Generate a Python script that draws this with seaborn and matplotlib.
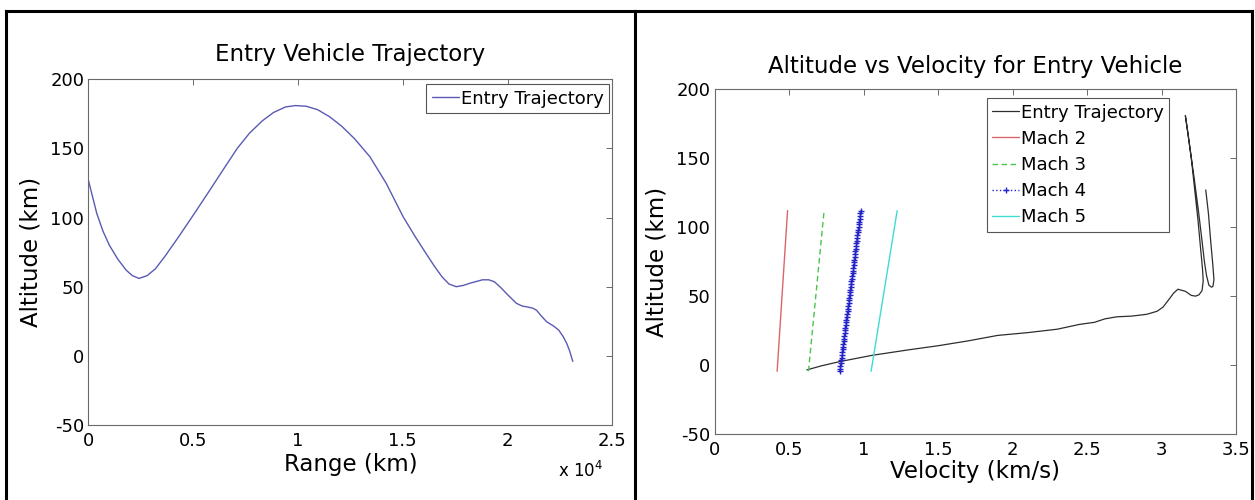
import numpy as np
import pandas as pd
import matplotlib
matplotlib.use("Agg")
import matplotlib.pyplot as plt
import seaborn as sns
from matplotlib.lines import Line2D
from matplotlib.ticker import FuncFormatter

# ---------------- data ----------------
# Left panel: range (km) vs altitude (km)
range_km = [0, 200, 400, 700, 1000, 1400, 1800, 2100, 2414, 2800, 3200, 3700,
            4300, 5058, 5800, 6533, 7100, 7683, 8300, 8833, 9400, 9886, 10400,
            10940, 11500, 12090, 12700, 13430, 14200, 15020, 15600, 16110,
            16500, 16880, 17200, 17550, 17900, 18220, 18800, 19100, 19370,
            19700, 19950, 20420, 20700, 20900, 21200, 21380, 21600, 21860,
            22200, 22440, 22650, 22820, 22950, 23110]
alt_range = [127, 115, 103, 90, 80, 70, 62, 58, 56, 58, 63, 73,
             86, 103, 120, 137, 150, 161, 170, 176, 180, 181, 180.5,
             178, 173, 166, 157, 144, 125, 100.5, 86, 74,
             65, 57, 52, 50, 51, 52.6, 55, 55, 53.6,
             49, 45, 38, 36, 35.5, 34.5, 33, 29, 24.7,
             21.5, 18.6, 14, 9, 4, -4]

# Right panel: entry trajectory velocity (km/s) vs altitude (km), in time order
traj_vel = [3.297, 3.315, 3.330, 3.345, 3.352, 3.345, 3.335, 3.318, 3.302,
            3.288, 3.272, 3.250, 3.220, 3.185, 3.160, 3.175, 3.200, 3.225,
            3.245, 3.262, 3.275, 3.280, 3.272, 3.252, 3.229, 3.200, 3.160,
            3.110, 3.080, 3.050, 3.010, 2.970, 2.900, 2.800, 2.700, 2.620,
            2.550, 2.450, 2.300, 2.100, 1.900, 1.700, 1.500, 1.300, 1.060,
            0.840, 0.720, 0.620]
traj_alt = [127, 110, 90, 72, 62, 57, 56.5, 58, 65,
            75, 90, 110, 135, 162, 181, 170, 150, 125,
            105, 85, 70, 61, 54, 51, 50, 50.5, 53.5,
            55, 52, 47.6, 42, 39, 36.8, 35.5, 35, 33.5,
            31, 29.5, 26, 23.5, 21.5, 17.5, 14, 11, 7.1,
            2.5, -0.5, -3.5]

# Mach lines: Mach number times local speed of sound (km/s)
mach_numbers = [2, 3, 4, 5]
mach_labels = ["Mach 2", "Mach 3", "Mach 4", "Mach 5"]
mach_alt_range = [-4.5, 112]          # altitude span of the Mach lines (km)
sound_speed_range = [0.2102, 0.2452]  # speed of sound at bottom / top (km/s)

# ---------------- styling ----------------
sns.set_theme(style="white")
plt.rcParams["font.family"] = ["DejaVu Sans"]
plt.rcParams["axes.unicode_minus"] = False
plt.rcParams["text.color"] = "black"
plt.rcParams["axes.labelcolor"] = "black"
plt.rcParams["axes.edgecolor"] = "#6a6a6a"
plt.rcParams["axes.linewidth"] = 0.8

W, H = 1255, 500
fig = plt.figure(figsize=(12.55, 5.0), dpi=100)
fig.patch.set_facecolor("white")


def fx(px):
    return px / W


def fy(py):
    return 1 - py / H


ax1 = fig.add_axes([fx(88.4), fy(425), fx(612.4) - fx(88.4), fy(79.3) - fy(425)])
ax2 = fig.add_axes([fx(714.5), fy(434), fx(1236) - fx(714.5), fy(89.3) - fy(434)])

# ---- left panel
df1 = pd.DataFrame({"range": range_km, "alt": alt_range})
sns.lineplot(data=df1, x="range", y="alt", ax=ax1, sort=False, estimator=None,
             color="#5a5ab4", lw=1.0, label="Entry Trajectory")
ax1.set_xlim(0, 25000)
ax1.set_ylim(-50, 200)
ax1.set_xticks([0, 5000, 10000, 15000, 20000, 25000])
ax1.xaxis.set_major_formatter(FuncFormatter(lambda v, p: f"{v / 1e4:g}"))
ax1.set_yticks([-50, 0, 50, 100, 150, 200])
ax1.set_title("Entry Vehicle Trajectory", fontsize=16.5, pad=13, color="black")
ax1.set_xlabel("Range (km)", fontsize=16.5)
ax1.set_ylabel("Altitude (km)", fontsize=16.5)
ax1.xaxis.set_label_coords(0.5, -0.08)
ax1.yaxis.set_label_coords(-0.088, 0.5)
fig.text(fx(603), fy(477), r"x 10$^4$", ha="right", va="baseline", fontsize=12,
         color="black")

# ---- right panel
df2 = pd.DataFrame({"vel": traj_vel, "alt": traj_alt})
sns.lineplot(data=df2, x="vel", y="alt", ax=ax2, sort=False, estimator=None,
             color="#2e2e2e", lw=0.9, label="Entry Trajectory")

mach_alt = np.linspace(mach_alt_range[0], mach_alt_range[1], 60)
sound = np.interp(mach_alt, mach_alt_range, sound_speed_range)
mach_styles = [
    dict(color="#d9666a", ls="-"),
    dict(color="#4cc44c", ls=(0, (4, 2.5))),
    dict(color="#2424c8", ls=":", marker="+", markersize=5,
         markeredgewidth=1.0, markeredgecolor="#2424c8"),
    dict(color="#3fdcd2", ls="-"),
]
for m, lab, st in zip(mach_numbers, mach_labels, mach_styles):
    dfm = pd.DataFrame({"vel": m * sound, "alt": mach_alt})
    sns.lineplot(data=dfm, x="vel", y="alt", ax=ax2, sort=False, estimator=None,
                 lw=1.0, label=lab, **st)

ax2.set_xlim(0, 3.5)
ax2.set_ylim(-50, 200)
ax2.set_xticks([0, 0.5, 1, 1.5, 2, 2.5, 3, 3.5])
ax2.xaxis.set_major_formatter(FuncFormatter(lambda v, p: f"{v:g}"))
ax2.set_yticks([-50, 0, 50, 100, 150, 200])
ax2.set_title("Altitude vs Velocity for Entry Vehicle", fontsize=16.5, pad=12,
              color="black")
ax2.set_xlabel("Velocity (km/s)", fontsize=16.5)
ax2.set_ylabel("Altitude (km)", fontsize=16.5)
ax2.xaxis.set_label_coords(0.5, -0.075)
ax2.yaxis.set_label_coords(-0.088, 0.5)

for ax in (ax1, ax2):
    ax.tick_params(direction="in", length=4, width=0.7, top=True, right=True,
                   colors="#6a6a6a", labelcolor="black", labelsize=13)
    ax.tick_params(axis="x", pad=5)
    ax.tick_params(axis="y", pad=3)
    for s in ax.spines.values():
        s.set_visible(True)
        s.set_color("#6a6a6a")
        s.set_linewidth(0.8)
    ax.grid(False)

leg_kw = dict(fontsize=13, frameon=True, fancybox=False, framealpha=1,
              edgecolor="#555555", borderaxespad=0, handlelength=1.5,
              handletextpad=0.1, borderpad=0.3, labelspacing=0.45)
l1 = ax1.legend(loc="upper right", bbox_to_anchor=(0.9935, 0.9855), **leg_kw)
l2 = ax2.legend(loc="upper right", bbox_to_anchor=(0.872, 0.974), **leg_kw)
for l in (l1, l2):
    l.get_frame().set_linewidth(0.8)
    for t in l.get_texts():
        t.set_color("black")

# ---- outer table-like borders
bw = 2.2
for xs, ys in [([fx(6), fx(6)], [0, fy(11)]),
               ([fx(6), fx(1252)], [fy(11), fy(11)]),
               ([fx(635), fx(635)], [0, fy(11)]),
               ([fx(1252), fx(1252)], [0, fy(11)])]:
    fig.add_artist(Line2D(xs, ys, transform=fig.transFigure, color="black",
                          lw=bw, solid_capstyle="projecting"))

fig.savefig("out.png", dpi=100, facecolor="white")
